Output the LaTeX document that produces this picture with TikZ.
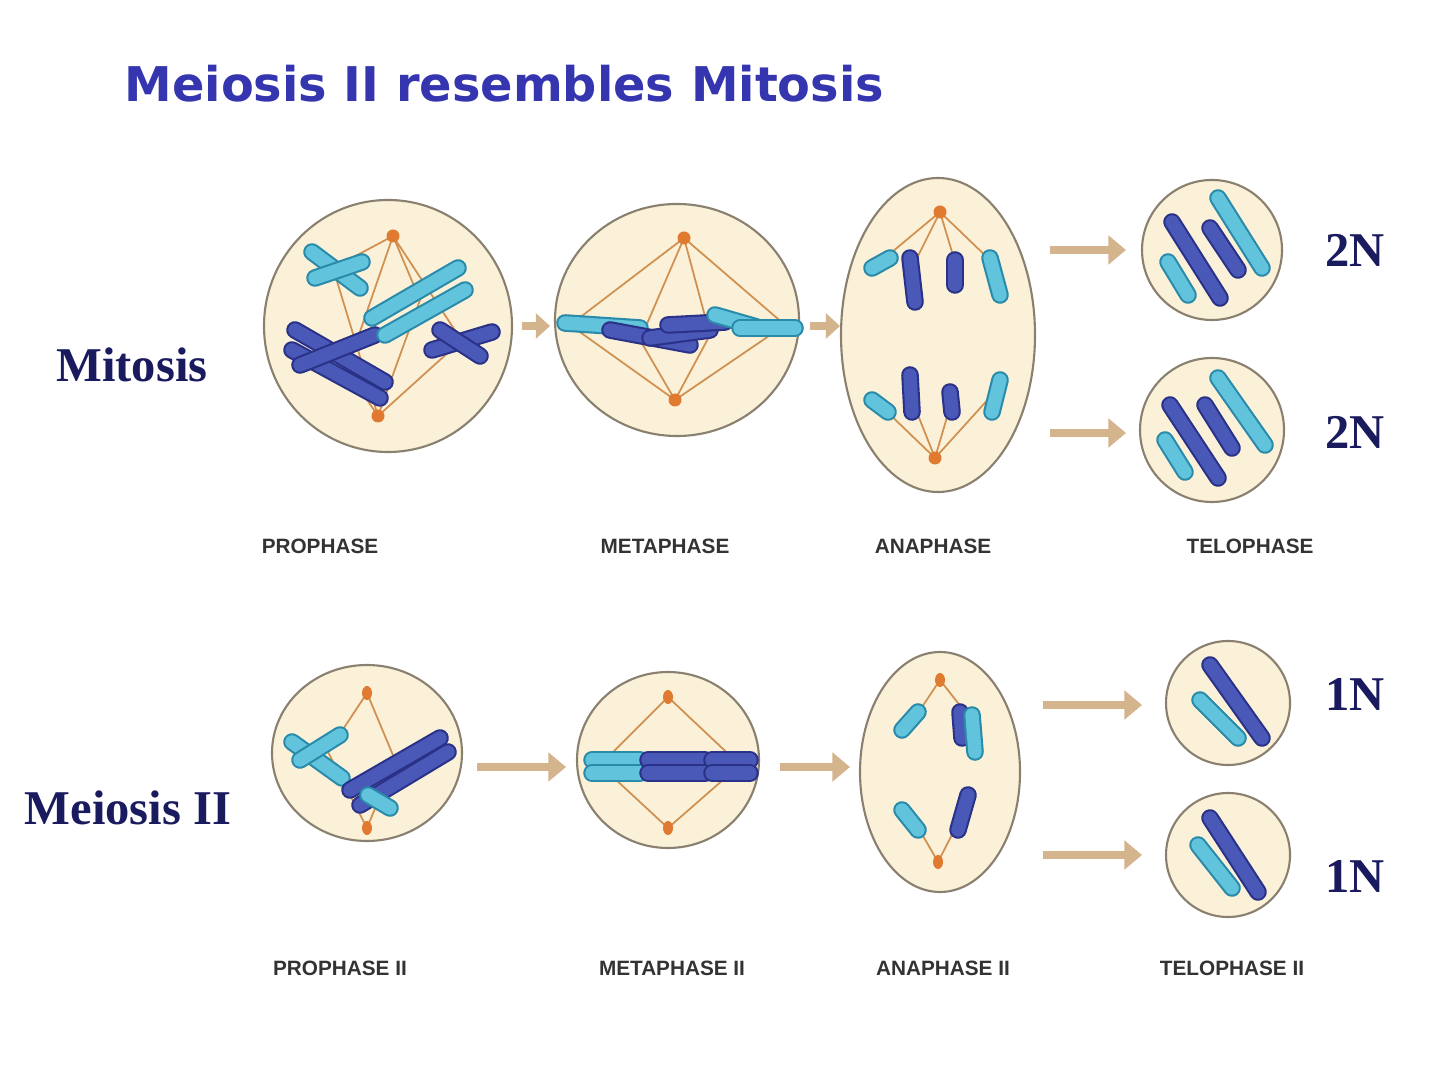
\documentclass[tikz,border=0pt]{standalone}
\usepackage{fontspec}
\setmainfont{Liberation Serif}
\newfontfamily\titlefont{DejaVu Sans}
\newfontfamily\labfont{Liberation Sans}
\usetikzlibrary{arrows.meta}
\definecolor{cellfill}{HTML}{FBF1D8}
\definecolor{cellline}{HTML}{8A8070}
\definecolor{dblue}{HTML}{4A58B8}
\definecolor{dblueo}{HTML}{2A3288}
\definecolor{cyanc}{HTML}{62C4DC}
\definecolor{cyanco}{HTML}{2A8AAA}
\definecolor{spind}{HTML}{D09050}
\definecolor{cent}{HTML}{E07A30}
\definecolor{arr}{HTML}{D4B48C}
\definecolor{titlec}{HTML}{3535B0}
\definecolor{navy}{HTML}{1A1A5E}
\newcommand\chromo[5]{%
  \draw[line width=5pt,line cap=round,#1o] (#2,#3)--(#4,#5);
  \draw[line width=3.8pt,line cap=round,#1] (#2,#3)--(#4,#5);}
\newcommand\cpole[2]{\fill[cent] (#1,#2) circle (6.5);}
\tikzset{
  cell/.style={draw=cellline,fill=cellfill,line width=0.6pt},
  sp/.style={spind,line width=0.5pt},
  bigarr/.style={arr,line width=2.4pt,-{Triangle[length=5pt,width=8pt]}},
  smarr/.style={arr,line width=2.2pt,-{Triangle[length=4pt,width=7pt]}},
  phase/.style={font=\labfont\bfseries\fontsize{5.9}{6.5}\selectfont,text=black!80},
  big/.style={font=\fontsize{13.8}{16}\selectfont\bfseries,text=navy},
}
\begin{document}
\begin{tikzpicture}[x=0.01cm,y=-0.01cm]
\useasboundingbox[fill=white] (0,0) rectangle (1440,1080);
\node[font=\titlefont\bfseries\fontsize{13.6}{15}\selectfont,text=titlec,anchor=west,inner sep=0pt] (title) at (124,84) {Meiosis II resembles Mitosis};
% ---------- Mitosis row
\node[big] (mit) at (132,365) {Mitosis};
% prophase
\draw[cell] (388,326) ellipse (124 and 126);
\draw[sp] (393,236)--(333,268) (393,236)--(345,375) (393,236)--(458,335) (393,236)--(420,300)
          (378,416)--(340,360) (378,416)--(420,300) (378,416)--(462,340) (378,416)--(333,268);
\chromo{dblue}{295}{330}{385}{382}
\chromo{dblue}{292}{350}{380}{398}
\chromo{dblue}{300}{365}{375}{335}
\chromo{cyanc}{312}{252}{360}{288}
\chromo{cyanc}{315}{278}{362}{262}
\chromo{cyanc}{372}{318}{458}{268}
\chromo{cyanc}{385}{335}{465}{290}
\chromo{dblue}{432}{350}{492}{332}
\chromo{dblue}{440}{330}{480}{356}
\cpole{393}{236}\cpole{378}{416}
% metaphase
\draw[cell] (677,320) ellipse (122 and 116);
\draw[sp] (684,238)--(570,325) (684,238)--(640,340) (684,238)--(710,335) (684,238)--(785,325)
          (675,400)--(570,325) (675,400)--(640,340) (675,400)--(710,335) (675,400)--(785,325);
\chromo{cyanc}{565}{323}{640}{328}
\chromo{dblue}{610}{330}{690}{345}
\chromo{dblue}{650}{338}{710}{330}
\chromo{dblue}{668}{325}{725}{322}
\chromo{cyanc}{715}{315}{760}{328}
\chromo{cyanc}{740}{328}{795}{328}
\cpole{684}{238}\cpole{675}{400}
% anaphase
\draw[cell] (938,335) ellipse (97 and 157);
\draw[sp] (940,212)--(880,262) (940,212)--(915,262) (940,212)--(955,262) (940,212)--(992,262)
          (935,458)--(880,405) (935,458)--(912,400) (935,458)--(952,400) (935,458)--(992,395);
\chromo{cyanc}{872}{268}{890}{258}
\chromo{dblue}{910}{258}{915}{302}
\chromo{dblue}{955}{260}{955}{285}
\chromo{cyanc}{990}{258}{1000}{295}
\chromo{cyanc}{872}{400}{888}{412}
\chromo{dblue}{910}{375}{912}{412}
\chromo{dblue}{950}{392}{952}{412}
\chromo{cyanc}{1000}{380}{992}{412}
\cpole{940}{212}\cpole{935}{458}
% telophase
\draw[cell] (1212,250) circle (70);
\chromo{dblue}{1172}{222}{1220}{298}
\chromo{dblue}{1210}{228}{1238}{270}
\chromo{cyanc}{1218}{198}{1262}{268}
\chromo{cyanc}{1168}{262}{1188}{295}
\draw[cell] (1212,430) circle (72);
\chromo{dblue}{1170}{405}{1218}{478}
\chromo{dblue}{1205}{405}{1232}{448}
\chromo{cyanc}{1218}{378}{1265}{445}
\chromo{cyanc}{1165}{440}{1185}{472}
% arrows
\draw[smarr] (522,326)--(550,326);
\draw[smarr] (810,326)--(840,326);
\draw[bigarr] (1050,250)--(1126,250);
\draw[bigarr] (1050,433)--(1126,433);
\node[big] (n1) at (1355,250) {2N};
\node[big] (n2) at (1355,432) {2N};
\node[phase] (p1) at (320,546) {PROPHASE};
\node[phase] (p2) at (665,546) {METAPHASE};
\node[phase] (p3) at (933,546) {ANAPHASE};
\node[phase] (p4) at (1250,546) {TELOPHASE};
% ---------- Meiosis II row
\node[big] (mei) at (128,808) {Meiosis II};
\draw[cell] (367,753) ellipse (95 and 88);
\draw[sp] (367,693)--(328,752) (367,693)--(395,760) (367,828)--(328,752) (367,828)--(395,760);
\chromo{cyanc}{292}{742}{342}{778}
\chromo{cyanc}{300}{760}{340}{735}
\chromo{dblue}{350}{790}{440}{738}
\chromo{dblue}{360}{805}{448}{752}
\chromo{cyanc}{368}{795}{390}{808}
\fill[cent] (367,693) ellipse (5 and 7); \fill[cent] (367,828) ellipse (5 and 7);
\draw[cell] (668,760) ellipse (91 and 88);
\draw[sp] (668,697)--(600,765) (668,697)--(740,765) (668,828)--(600,765) (668,828)--(740,765);
\chromo{cyanc}{592}{760}{640}{760}
\chromo{cyanc}{592}{773}{640}{773}
\chromo{dblue}{648}{760}{705}{760}
\chromo{dblue}{648}{773}{705}{773}
\chromo{dblue}{712}{760}{750}{760}
\chromo{dblue}{712}{773}{750}{773}
\fill[cent] (668,697) ellipse (5 and 7); \fill[cent] (668,828) ellipse (5 and 7);
\draw[cell] (940,772) ellipse (80 and 120);
\draw[sp] (940,680)--(912,722) (940,680)--(965,712) (938,862)--(915,822) (938,862)--(962,815);
\chromo{cyanc}{902}{730}{918}{712}
\chromo{dblue}{960}{712}{962}{738}
\chromo{cyanc}{972}{715}{975}{752}
\chromo{cyanc}{902}{810}{918}{830}
\chromo{dblue}{958}{830}{968}{795}
\fill[cent] (940,680) ellipse (5 and 7); \fill[cent] (938,862) ellipse (5 and 7);
\draw[cell] (1228,703) circle (62);
\chromo{dblue}{1210}{665}{1262}{738}
\chromo{cyanc}{1200}{700}{1238}{738}
\draw[cell] (1228,855) circle (62);
\chromo{dblue}{1210}{818}{1258}{892}
\chromo{cyanc}{1198}{845}{1232}{888}
\draw[bigarr] (477,767)--(566,767);
\draw[bigarr] (780,767)--(850,767);
\draw[bigarr] (1043,705)--(1142,705);
\draw[bigarr] (1043,855)--(1142,855);
\node[big] (n3) at (1355,694) {1N};
\node[big] (n4) at (1355,876) {1N};
\node[phase] (q1) at (340,968) {PROPHASE II};
\node[phase] (q2) at (672,968) {METAPHASE II};
\node[phase] (q3) at (943,968) {ANAPHASE II};
\node[phase] (q4) at (1232,968) {TELOPHASE II};
\end{tikzpicture}
\end{document}
